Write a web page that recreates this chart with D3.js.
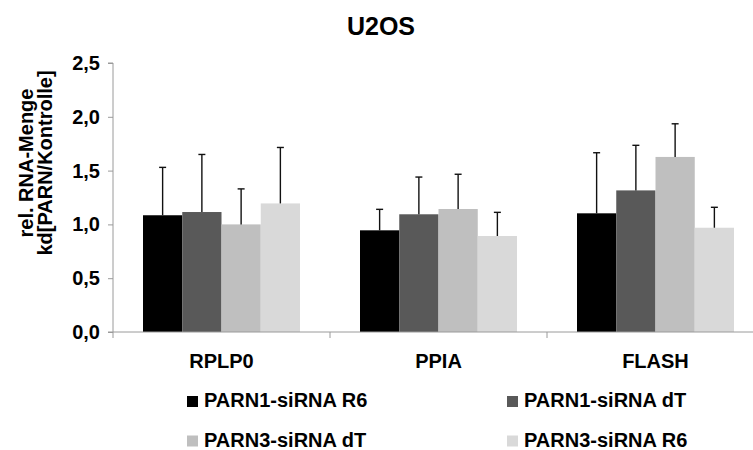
<!DOCTYPE html>
<html>
<head>
<meta charset="utf-8">
<script src="https://cdn.jsdelivr.net/npm/d3@7"></script>
<style>
  body { margin: 0; background: #fff; }
  svg text { font-family: Arial, "Liberation Sans", sans-serif; font-weight: bold; fill: #000; }
</style>
</head>
<body>
<svg id="chart" width="753" height="450"></svg>
<script>
// values (mean, +SD shown as upper error bar only)
var categories = ["RPLP0", "PPIA", "FLASH"];
var seriesNames = ["PARN1-siRNA R6", "PARN1-siRNA dT", "PARN3-siRNA dT", "PARN3-siRNA R6"];
var seriesColors = ["#000000", "#595959", "#bfbfbf", "#d9d9d9"];

var parn1R6 = [1.085, 0.945, 1.103];
var parn1dT = [1.115, 1.094, 1.316];
var parn3dT = [1.0, 1.143, 1.627];
var parn3R6 = [1.195, 0.892, 0.969];

var parn1R6Err = [0.445, 0.195, 0.563];
var parn1dTErr = [0.535, 0.346, 0.419];
var parn3dTErr = [0.33, 0.323, 0.308];
var parn3R6Err = [0.52, 0.22, 0.19];

var yTicks = [0, 0.5, 1.0, 1.5, 2.0, 2.5];

var allValues = [parn1R6, parn1dT, parn3dT, parn3R6];
var allErrors = [parn1R6Err, parn1dTErr, parn3dTErr, parn3R6Err];

// flatten into one row per bar for the data join
var bars = [];
categories.forEach(function(cat, ci) {
    seriesNames.forEach(function(s, si) {
        bars.push({cat: cat, series: s, si: si, value: allValues[si][ci], err: allErrors[si][ci]});
    });
});

var svg = d3.select("#chart");
var axisColor = "#9a9a9a";

var x0 = d3.scaleBand().domain(categories).range([113, 764]).padding(0);
var x1 = d3.scaleBand().domain(seriesNames).range([30, 187]).padding(0);
var y = d3.scaleLinear().domain([0, 2.5]).range([332, 63]);

// title
svg.append("text")
    .attr("x", 381).attr("y", 35)
    .attr("text-anchor", "middle")
    .style("font-size", "25px")
    .text("U2OS");

// y axis
var yAxis = svg.append("g")
    .attr("transform", "translate(113,0)")
    .call(d3.axisLeft(y).tickValues(yTicks).tickSize(5).tickPadding(8)
        .tickFormat(function(d) { return d3.format(".1f")(d).replace(".", ","); }));
yAxis.select(".domain").attr("stroke", axisColor);
yAxis.selectAll(".tick line").attr("stroke", axisColor);
yAxis.selectAll(".tick text").style("font-size", "20px").attr("fill", "#000");
yAxis.select(".domain").attr("d", "M-5," + y(2.5) + "H0V" + y(0) + "H-5");

// y axis title, two lines
var yTitle = svg.append("text")
    .attr("transform", "translate(0,163) rotate(-90)")
    .attr("text-anchor", "middle")
    .style("font-size", "20px");
yTitle.append("tspan").attr("x", 0).attr("y", 33).text("rel. RNA-Menge");
yTitle.append("tspan").attr("x", 0).attr("y", 52).text("kd[PARN/Kontrolle]");

// bars
var barG = svg.append("g");
barG.selectAll("rect")
    .data(bars)
    .join("rect")
    .attr("x", function(d) { return x0(d.cat) + x1(d.series); })
    .attr("y", function(d) { return y(d.value); })
    .attr("width", x1.bandwidth())
    .attr("height", function(d) { return y(0) - y(d.value); })
    .attr("fill", function(d) { return seriesColors[d.si]; });

// error bars (upper only)
var errG = svg.append("g").attr("stroke", "#111").attr("stroke-width", 1.4);
var cx = function(d) { return x0(d.cat) + x1(d.series) + x1.bandwidth() / 2; };
errG.selectAll("line.v")
    .data(bars)
    .join("line")
    .attr("class", "v")
    .attr("x1", cx).attr("x2", cx)
    .attr("y1", function(d) { return y(d.value); })
    .attr("y2", function(d) { return y(d.value + d.err); });
errG.selectAll("line.cap")
    .data(bars)
    .join("line")
    .attr("class", "cap")
    .attr("x1", function(d) { return cx(d) - 3.5; })
    .attr("x2", function(d) { return cx(d) + 3.5; })
    .attr("y1", function(d) { return y(d.value + d.err); })
    .attr("y2", function(d) { return y(d.value + d.err); });

// x axis
var xAxis = svg.append("g")
    .attr("transform", "translate(0," + y(0) + ")");
xAxis.append("line")
    .attr("x1", 113).attr("x2", 764)
    .attr("stroke", axisColor);
xAxis.selectAll("line.sep")
    .data(categories)
    .join("line")
    .attr("class", "sep")
    .attr("x1", function(d) { return x0(d); })
    .attr("x2", function(d) { return x0(d); })
    .attr("y1", 0).attr("y2", 6)
    .attr("stroke", axisColor);
xAxis.selectAll("text")
    .data(categories)
    .join("text")
    .attr("x", function(d) { return x0(d) + x0.bandwidth() / 2; })
    .attr("y", 36)
    .attr("text-anchor", "middle")
    .style("font-size", "20px")
    .text(function(d) { return d; });

// legend, 2 x 2
var legendX = [187, 507];
var legendY = [407, 446.5];
var legend = svg.append("g");
var items = legend.selectAll("g")
    .data(seriesNames)
    .join("g")
    .attr("transform", function(d, i) { return "translate(" + legendX[i % 2] + "," + legendY[Math.floor(i / 2)] + ")"; });
items.append("rect")
    .attr("x", 0).attr("y", -11)
    .attr("width", 11).attr("height", 11)
    .attr("fill", function(d, i) { return seriesColors[i]; });
items.append("text")
    .attr("x", 17).attr("y", 0)
    .style("font-size", "20px")
    .text(function(d) { return d; });
</script>
</body>
</html>
